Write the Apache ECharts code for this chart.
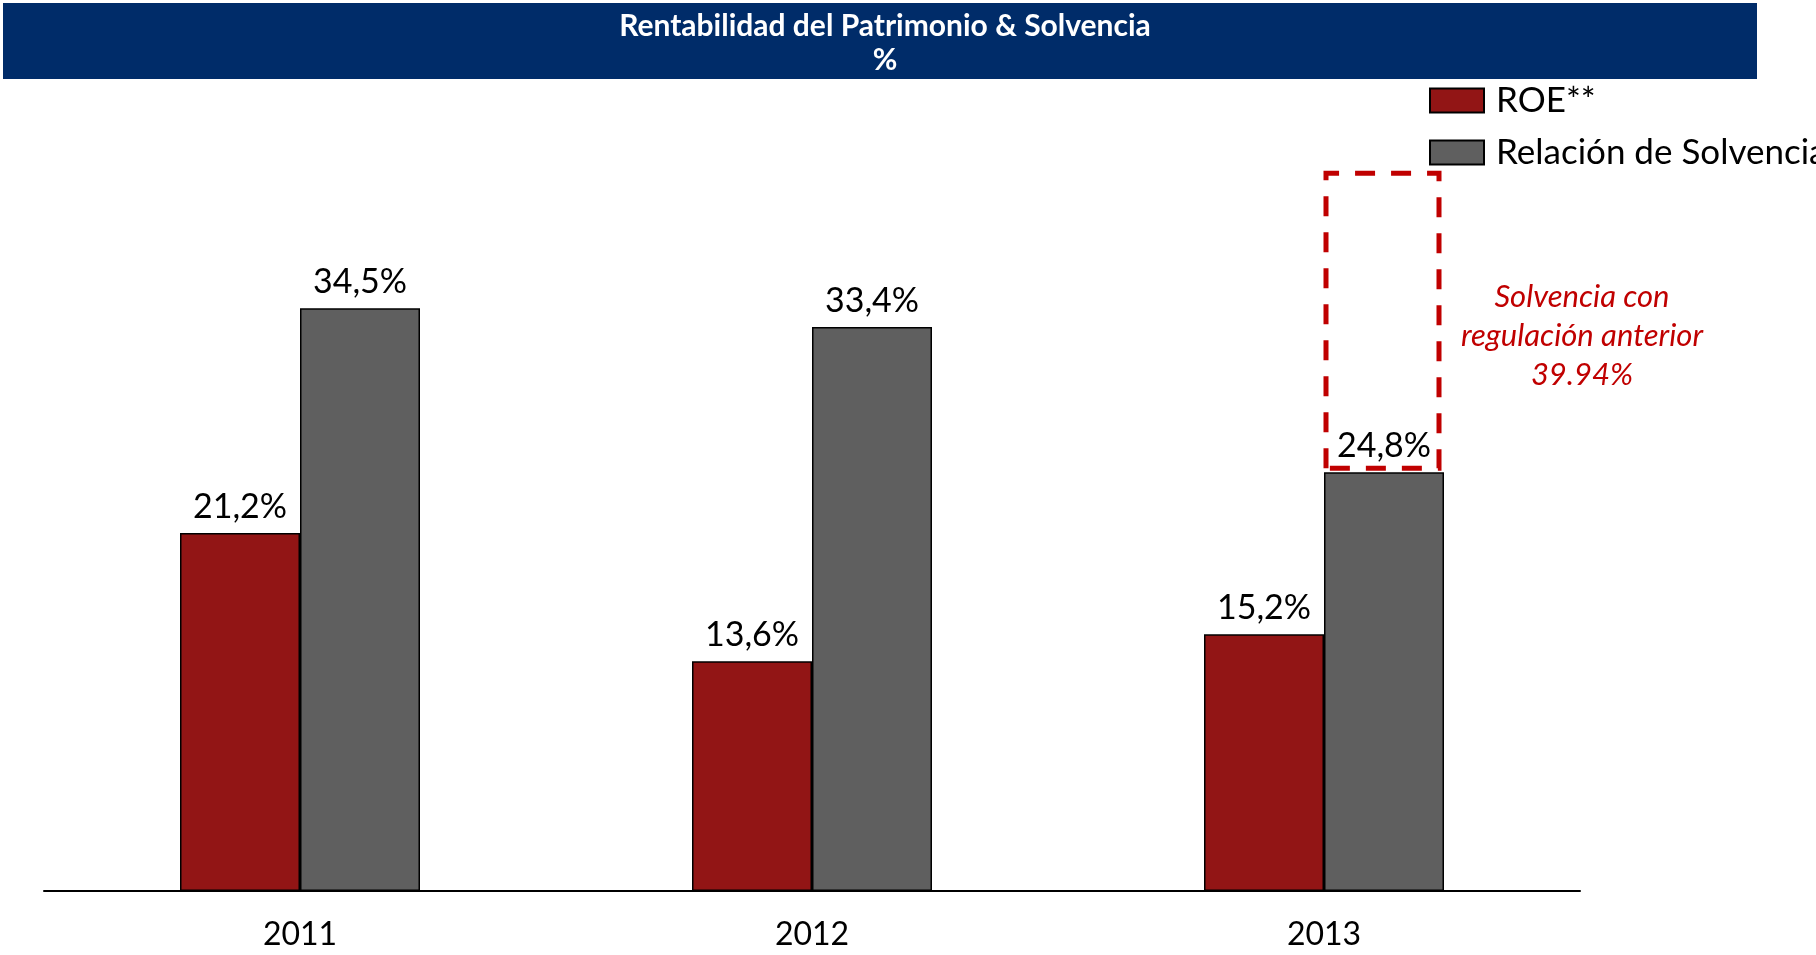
<!DOCTYPE html>
<html>
<head>
<meta charset="utf-8">
<title>Rentabilidad del Patrimonio & Solvencia</title>
<script src="https://cdn.jsdelivr.net/npm/echarts@6/dist/echarts.min.js"></script>
<style>
    html, body { margin: 0; padding: 0; background: #fff; }
    #chart { width: 1816px; height: 955px; }
</style>
</head>
<body>
<div id="chart"></div>
<script>
// 数据
let years = ['2011', '2012', '2013'];
let roe = [21.2, 13.6, 15.2];
let solvencia = [34.5, 33.4, 24.8];
// 虚线框: 2013 年 从柱顶到框顶
let boxYear = ['2013'];
let boxTop = [42.5];
let noteLines = ['Solvencia con', 'regulación anterior', '39.94%'];

let fontName = 'Lato, "Open Sans", sans-serif';

function pct(v) {
    return v.toFixed(1).replace('.', ',') + '%';
}

let chart = echarts.init(document.getElementById('chart'));

let option = {
    animation: false,
    backgroundColor: '#fff',
    title: {
        text: 'Rentabilidad del Patrimonio & Solvencia\n%',
        left: 880,
        top: 4,
        textAlign: 'center',
        textStyle: {
            color: '#fff',
            fontFamily: fontName,
            fontWeight: 'bold',
            fontSize: 30,
            lineHeight: 34
        }
    },
    graphic: [
        // 标题背景
        {
            type: 'rect',
            z: -1,
            shape: { x: 3, y: 3, width: 1754, height: 76 },
            style: { fill: '#002C69' }
        },
        // 注释文字
        {
            type: 'text',
            x: 1582,
            y: 336,
            style: {
                text: noteLines.join('\n'),
                fill: '#C00000',
                font: 'italic 31px ' + fontName,
                lineHeight: 39,
                align: 'center',
                verticalAlign: 'middle'
            }
        }
    ],
    legend: {
        data: ['ROE**', 'Relación de Solvencia'],
        orient: 'vertical',
        left: 1424,
        top: 78,
        icon: 'rect',
        itemWidth: 54,
        itemHeight: 24,
        itemGap: 17,
        textStyle: {
            color: '#000',
            fontFamily: fontName,
            fontSize: 35,
            lineHeight: 24,
            padding: [0, 0, 0, 7]
        }
    },
    grid: {
        left: 44,
        right: 236,
        top: 131,
        bottom: 64
    },
    xAxis: {
        type: 'category',
        data: years,
        axisTick: { show: false },
        axisLine: { lineStyle: { color: '#000', width: 2 } },
        axisLabel: {
            color: '#000',
            fontFamily: fontName,
            fontSize: 32,
            margin: 28
        }
    },
    yAxis: {
        type: 'value',
        min: 0,
        max: 45,
        show: false,
        splitLine: { show: false }
    },
    series: [
        {
            name: 'ROE**',
            type: 'bar',
            data: roe,
            barWidth: 120,
            barGap: '0%',
            itemStyle: { color: '#921515', borderColor: '#000', borderWidth: 1.5 },
            label: {
                show: true,
                position: 'top',
                distance: 9,
                color: '#000',
                fontFamily: fontName,
                fontSize: 34,
                formatter: function (p) { return pct(p.value); }
            }
        },
        {
            name: 'Relación de Solvencia',
            type: 'bar',
            data: solvencia,
            barWidth: 120,
            barGap: '0%',
            itemStyle: { color: '#5F5F5F', borderColor: '#000', borderWidth: 1.5 },
            label: {
                show: true,
                position: 'top',
                distance: 9,
                color: '#000',
                fontFamily: fontName,
                fontSize: 34,
                formatter: function (p) { return pct(p.value); }
            }
        },
        {
            // 红色虚线框
            name: 'box',
            type: 'custom',
            z: 5,
            silent: true,
            data: boxYear.map(function (y, i) {
                return [years.indexOf(y), solvencia[years.indexOf(y)], boxTop[i]];
            }),
            renderItem: function (params, api) {
                let bottom = api.coord([api.value(0), api.value(1)]);
                let top = api.coord([api.value(0), api.value(2)]);
                let x0 = bottom[0] + 2;
                let x1 = bottom[0] + 115;
                let y0 = top[1];
                let y1 = bottom[1] - 4;
                return {
                    type: 'polyline',
                    shape: { points: [[x0, y1], [x0, y0], [x1, y0], [x1, y1], [x0, y1]] },
                    style: {
                        fill: null,
                        stroke: '#C00000',
                        lineWidth: 5,
                        lineDash: [20, 16]
                    }
                };
            }
        }
    ]
};

chart.setOption(option);
</script>
</body>
</html>
